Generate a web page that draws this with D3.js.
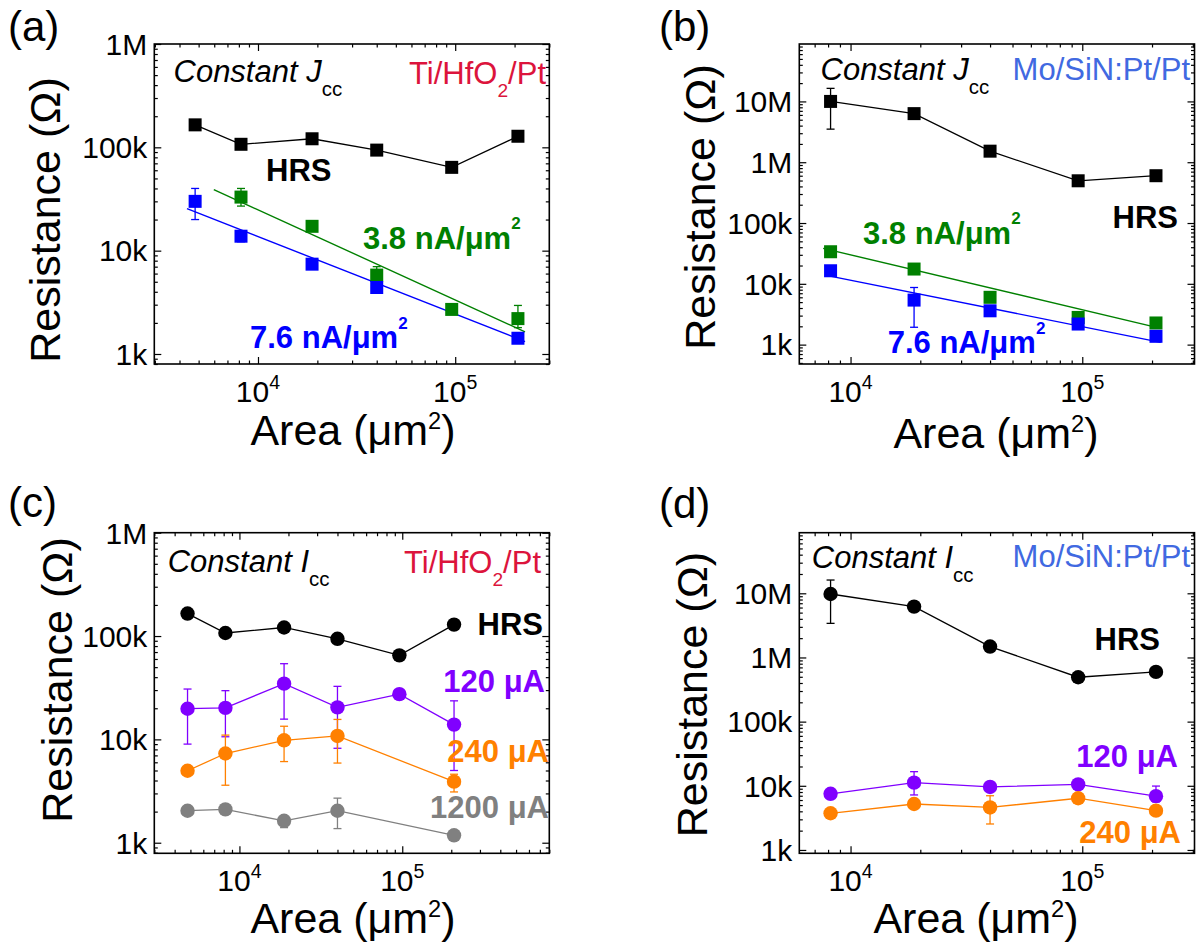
<!DOCTYPE html>
<html>
<head>
<meta charset="utf-8">
<script src="https://cdn.jsdelivr.net/npm/d3@7"></script>
<style>
body { margin: 0; background: #fff; }
svg  { font-family: "Liberation Sans", Arial, sans-serif; }
</style>
</head>
<body>
<div id="chart"></div>
<script>
//  Define width and height
var chart_width     =   1196;
var chart_height    =   946;

// Device areas (um^2)
var areaTi          =   [4800, 8200, 18800, 40000, 96000, 208000];
var areaMo          =   [8200, 18800, 40000, 96000, 208000];
var areaTi5         =   [4800, 8200, 18800, 40000, 208000];
var areaTi38        =   [8200, 18800, 40000, 96000, 208000];

// (a) Ti/HfO2/Pt, constant Jcc
var a_hrs           =   [165e3, 107e3, 121e3, 94e3, 64e3, 128e3];
var a_j38           =   [33e3, 17.2e3, 5.8e3, 2.7e3, 2.2e3];
var a_j38_lo        =   [27e3, null, 5.3e3, null, 1.8e3];
var a_j38_hi        =   [40e3, null, 7.0e3, null, 2.95e3];
var a_j76           =   [30e3, 13.8e3, 7.4e3, 4.4e3, 1.42e3];
var a_j76_lo        =   [20e3, 12.2e3, 6.6e3, 4.0e3, null];
var a_j76_hi        =   [40e3, 15.2e3, 8.1e3, 4.8e3, null];
var a_fit38         =   [[5970, 38.9e3], [2.26e5, 1.64e3]];
var a_fit76         =   [[4365, 25.5e3], [2.26e5, 1.32e3]];

// (b) Mo/SiN:Pt/Pt, constant Jcc
var b_hrs           =   [10e6, 6.3e6, 1.52e6, 495e3, 600e3];
var b_hrs_lo        =   [3.5e6, null, null, null, null];
var b_hrs_hi        =   [16.4e6, null, null, null, null];
var b_j38           =   [33.7e3, 17.5e3, 6.0e3, 2.8e3, 2.27e3];
var b_j38_lo        =   [29e3, null, null, null, null];
var b_j38_hi        =   [39e3, null, null, null, null];
var b_j76           =   [16.4e3, 5.4e3, 3.6e3, 2.18e3, 1.37e3];
var b_j76_lo        =   [null, 1.93e3, 3.0e3, null, null];
var b_j76_hi        =   [null, 8.7e3, 4.2e3, null, null];
var b_fit38         =   [[7620, 38.3e3], [2.18e5, 1.85e3]];
var b_fit76         =   [[7760, 13.9e3], [2.18e5, 1.09e3]];

// (c) Ti/HfO2/Pt, constant Icc
var c_hrs           =   [165e3, 107e3, 121e3, 94e3, 65e3, 129e3];
var c_i120          =   [19.8e3, 20.2e3, 34.6e3, 20.4e3, 27.4e3, 13.9e3];
var c_i120_lo       =   [9.0e3, 10.6e3, 15.7e3, 8.2e3, null, 5.0e3];
var c_i120_hi       =   [30.7e3, 29.6e3, 54e3, 32.6e3, null, 23.6e3];
var c_i240          =   [4.97e3, 7.3e3, 9.8e3, 10.8e3, 3.9e3];
var c_i240_lo       =   [null, 3.6e3, 6.1e3, 5.9e3, 3.1e3];
var c_i240_hi       =   [null, 11e3, 13.4e3, 15.6e3, 4.6e3];
var c_i1200         =   [2.04e3, 2.1e3, 1.63e3, 2.04e3, 1.18e3];
var c_i1200_lo      =   [null, null, 1.4e3, 1.37e3, null];
var c_i1200_hi      =   [null, null, 1.8e3, 2.7e3, null];

// (d) Mo/SiN:Pt/Pt, constant Icc
var d_hrs           =   [9.75e6, 6.2e6, 1.48e6, 492e3, 596e3];
var d_hrs_lo        =   [3.4e6, null, null, null, null];
var d_hrs_hi        =   [16.1e6, null, null, null, null];
var d_i120          =   [7.5e3, 11.2e3, 9.6e3, 10.5e3, 6.9e3];
var d_i120_lo       =   [null, 7.2e3, null, null, 5.6e3];
var d_i120_hi       =   [null, 16.6e3, null, null, 9.9e3];
var d_i240          =   [3.73e3, 5.2e3, 4.6e3, 6.4e3, 4.1e3];
var d_i240_lo       =   [3.2e3, null, 2.54e3, null, null];
var d_i240_hi       =   [4.3e3, null, 7.0e3, null, null];

// Colours
var c_green = "#008000", c_blue = "#0000ff", c_purple = "#8000ff",
    c_orange = "#ff8000", c_gray = "#808080", c_crimson = "#dc143c", c_royal = "#4169e1";

// Font sizes
var fs_tick = 30, fs_title = 43, fs_note = 31, fs_bold = 31, fs_letter = 42;


// Create SVG
var svg             =   d3.select("#chart")
    .append("svg")
    .attr("width", chart_width)
    .attr("height", chart_height);

function isPow10(d){
    var l = Math.log10(d);
    return Math.abs(l - Math.round(l)) < 1e-6;
}

// text with sub / superscripts
function richText(g, x, y, parts, o){
    var t = g.append("text")
        .attr("x", x).attr("y", y)
        .attr("font-size", o.size)
        .attr("fill", o.color || "#000")
        .attr("text-anchor", o.anchor || "start");
    if(o.weight) t.attr("font-weight", o.weight);
    if(o.italic) t.attr("font-style", "italic");
    if(o.rotate) t.attr("transform", "rotate(-90 " + x + " " + y + ")");
    var shift = 0;
    parts.forEach(function(p){
        var s = t.append("tspan").text(p.t);
        var target = 0;
        if(p.sup){ target = -(p.up || 0.5) * o.size; s.attr("font-size", o.size * (p.k || 0.6)); }
        if(p.sub){ target = (p.down || 0.4) * o.size; s.attr("font-size", o.size * (p.k || 0.62)); s.attr("font-style", "normal"); }
        s.attr("dy", target - shift);
        shift = target;
    });
    return t;
}

function drawPanel(p){
    var x = d3.scaleLog().domain(p.xDomain).range([p.left, p.right]);
    var y = d3.scaleLog().domain(p.yDomain).range([p.bottom, p.top]);
    var g = svg.append("g");

    var xt = x.ticks(), yt = y.ticks();
    var xMajor = xt.filter(isPow10), xMinor = xt.filter(function(d){ return !isPow10(d); });
    var yMajor = yt.filter(isPow10), yMinor = yt.filter(function(d){ return !isPow10(d); });

    // ticks on all four sides, pointing in
    var sides = [
        [d3.axisBottom, x, "translate(0," + p.bottom + ")", xMajor, xMinor],
        [d3.axisTop,    x, "translate(0," + p.top + ")",    xMajor, xMinor],
        [d3.axisLeft,   y, "translate(" + p.left + ",0)",   yMajor, yMinor],
        [d3.axisRight,  y, "translate(" + p.right + ",0)",  yMajor, yMinor]
    ];
    sides.forEach(function(s){
        [[s[3], -7], [s[4], -3.5]].forEach(function(set){
            var ax = g.append("g")
                .attr("transform", s[2])
                .call(s[0](s[1]).tickValues(set[0]).tickSize(set[1]).tickFormat(""));
            ax.select(".domain").remove();
            ax.selectAll("text").remove();
            ax.selectAll("line").attr("stroke", "#000").attr("stroke-width", 1.2);
        });
    });

    // tick labels
    var fmt = d3.format("~s");
    yMajor.forEach(function(v){
        g.append("text")
            .attr("x", p.left - 7)
            .attr("y", y(v))
            .attr("dy", "0.36em")
            .attr("text-anchor", "end")
            .attr("font-size", fs_tick)
            .text(fmt(v));
    });
    xMajor.forEach(function(v){
        richText(g, x(v), p.bottom + 38,
            [{t: "10"}, {t: String(Math.round(Math.log10(v))), sup: true, up: 0.45, k: 0.65}],
            {size: fs_tick, anchor: "middle"});
    });

    // fit lines
    (p.fits || []).forEach(function(f){
        g.append("path")
            .datum(f.pts)
            .attr("fill", "none")
            .attr("stroke", f.color)
            .attr("stroke-width", 1.4)
            .attr("d", d3.line().x(function(d){ return x(d[0]); }).y(function(d){ return y(d[1]); }));
    });

    // series
    p.series.forEach(function(s){
        var pts = s.area.map(function(a, i){
            return {a: a, v: s.values[i], lo: s.lo ? s.lo[i] : null, hi: s.hi ? s.hi[i] : null};
        });
        if(s.line){
            g.append("path")
                .datum(pts)
                .attr("fill", "none")
                .attr("stroke", s.color)
                .attr("stroke-width", 1.3)
                .attr("d", d3.line().x(function(d){ return x(d.a); }).y(function(d){ return y(d.v); }));
        }
        var eb = g.append("g").attr("stroke", s.color).attr("stroke-width", 1.3);
        pts.filter(function(d){ return d.lo != null; }).forEach(function(d){
            var cx = x(d.a);
            eb.append("line").attr("x1", cx).attr("x2", cx).attr("y1", y(d.lo)).attr("y2", y(d.hi));
            eb.append("line").attr("x1", cx - 4).attr("x2", cx + 4).attr("y1", y(d.lo)).attr("y2", y(d.lo));
            eb.append("line").attr("x1", cx - 4).attr("x2", cx + 4).attr("y1", y(d.hi)).attr("y2", y(d.hi));
        });
        if(s.shape === "square"){
            g.selectAll(null).data(pts).enter().append("rect")
                .attr("x", function(d){ return x(d.a) - 6.5; })
                .attr("y", function(d){ return y(d.v) - 6.5; })
                .attr("width", 13).attr("height", 13)
                .attr("fill", s.color);
        }else{
            g.selectAll(null).data(pts).enter().append("circle")
                .attr("cx", function(d){ return x(d.a); })
                .attr("cy", function(d){ return y(d.v); })
                .attr("r", 7.2)
                .attr("fill", s.color);
        }
    });

    // frame
    g.append("rect")
        .attr("x", p.left).attr("y", p.top)
        .attr("width", p.right - p.left).attr("height", p.bottom - p.top)
        .attr("fill", "none").attr("stroke", "#000").attr("stroke-width", 1.6);

    // axis titles
    richText(g, p.yTitle[0], p.yTitle[1], [{t: "Resistance (Ω)"}], {size: fs_title, anchor: "middle", rotate: true});
    richText(g, p.xTitle[0], p.xTitle[1],
        [{t: "Area (μm"}, {t: "2", sup: true, up: 0.38, k: 0.55}, {t: ")"}],
        {size: fs_title, anchor: "middle"});

    // panel letter
    g.append("text").attr("x", p.letter[0]).attr("y", p.letter[1])
        .attr("font-size", fs_letter).text(p.letter[2]);

    // annotations
    p.notes.forEach(function(n){
        richText(g, n.x, n.y, n.parts, n.o);
    });
}

var jcc = [{t: "Constant J"}, {t: "cc", sub: true, down: 0.45, k: 0.66}];
var icc = [{t: "Constant I"}, {t: "cc", sub: true, down: 0.45, k: 0.66}];
var tiLabel = [{t: "Ti/HfO"}, {t: "2", sub: true, down: 0.42, k: 0.62}, {t: "/Pt"}];
var moLabel = [{t: "Mo/SiN:Pt/Pt"}];
function density(v){ return [{t: v + " nA/μm"}, {t: "2", sup: true, up: 0.62, k: 0.55}]; }

// (a)
drawPanel({
    left: 154.3, right: 549.3, top: 44, bottom: 364,
    xDomain: [2980, 3.0e5], yDomain: [800, 1e6],
    yTitle: [60, 220], xTitle: [353, 445], letter: [8, 41, "(a)"],
    fits: [{pts: a_fit38, color: c_green}, {pts: a_fit76, color: c_blue}],
    series: [
        {area: areaTi, values: a_hrs, color: "#000", shape: "square", line: true},
        {area: areaTi38, values: a_j38, lo: a_j38_lo, hi: a_j38_hi, color: c_green, shape: "square"},
        {area: areaTi5, values: a_j76, lo: a_j76_lo, hi: a_j76_hi, color: c_blue, shape: "square"}
    ],
    notes: [
        {x: 173.5, y: 82, parts: jcc, o: {size: fs_note, italic: true}},
        {x: 546, y: 84, parts: tiLabel, o: {size: fs_note, color: c_crimson, anchor: "end"}},
        {x: 266, y: 181, parts: [{t: "HRS"}], o: {size: fs_bold, weight: "bold"}},
        {x: 363, y: 248.5, parts: density("3.8"), o: {size: fs_bold, weight: "bold", color: c_green}},
        {x: 250, y: 348.3, parts: density("7.6"), o: {size: fs_bold, weight: "bold", color: c_blue}}
    ]
});

// (b)
drawPanel({
    left: 799.3, right: 1194.5, top: 44, bottom: 364,
    xDomain: [6010, 3.05e5], yDomain: [480, 8.8e7],
    yTitle: [715, 207], xTitle: [996, 448], letter: [659, 41, "(b)"],
    fits: [{pts: b_fit38, color: c_green}, {pts: b_fit76, color: c_blue}],
    series: [
        {area: areaMo, values: b_hrs, lo: b_hrs_lo, hi: b_hrs_hi, color: "#000", shape: "square", line: true},
        {area: areaMo, values: b_j38, lo: b_j38_lo, hi: b_j38_hi, color: c_green, shape: "square"},
        {area: areaMo, values: b_j76, lo: b_j76_lo, hi: b_j76_hi, color: c_blue, shape: "square"}
    ],
    notes: [
        {x: 820.5, y: 79.6, parts: jcc, o: {size: fs_note, italic: true}},
        {x: 1190, y: 79.6, parts: moLabel, o: {size: fs_note, color: c_royal, anchor: "end"}},
        {x: 1178, y: 228, parts: [{t: "HRS"}], o: {size: fs_bold, weight: "bold", anchor: "end"}},
        {x: 863, y: 243.6, parts: density("3.8"), o: {size: fs_bold, weight: "bold", color: c_green}},
        {x: 887.7, y: 353.3, parts: density("7.6"), o: {size: fs_bold, weight: "bold", color: c_blue}}
    ]
});

// (c)
drawPanel({
    left: 154.3, right: 549.3, top: 532.7, bottom: 853.3,
    xDomain: [3000, 8.0e5], yDomain: [790, 1e6],
    yTitle: [72, 680], xTitle: [353, 933], letter: [8, 517, "(c)"],
    series: [
        {area: areaTi, values: c_hrs, color: "#000", shape: "circle", line: true},
        {area: areaTi, values: c_i120, lo: c_i120_lo, hi: c_i120_hi, color: c_purple, shape: "circle", line: true},
        {area: areaTi5, values: c_i240, lo: c_i240_lo, hi: c_i240_hi, color: c_orange, shape: "circle", line: true},
        {area: areaTi5, values: c_i1200, lo: c_i1200_lo, hi: c_i1200_hi, color: c_gray, shape: "circle", line: true}
    ],
    notes: [
        {x: 167.7, y: 571.6, parts: icc, o: {size: fs_note, italic: true}},
        {x: 541, y: 573.3, parts: tiLabel, o: {size: fs_note, color: c_crimson, anchor: "end"}},
        {x: 543, y: 634.8, parts: [{t: "HRS"}], o: {size: fs_bold, weight: "bold", anchor: "end"}},
        {x: 545, y: 692.3, parts: [{t: "120 μA"}], o: {size: fs_bold, weight: "bold", color: c_purple, anchor: "end"}},
        {x: 549, y: 762.2, parts: [{t: "240 μA"}], o: {size: fs_bold, weight: "bold", color: c_orange, anchor: "end"}},
        {x: 549, y: 817.7, parts: [{t: "1200 μA"}], o: {size: fs_bold, weight: "bold", color: c_gray, anchor: "end"}}
    ]
});

// (d)
drawPanel({
    left: 799.3, right: 1194.5, top: 532.7, bottom: 853.3,
    xDomain: [6010, 3.05e5], yDomain: [887, 8.8e7],
    yTitle: [707.5, 694.6], xTitle: [976, 933], letter: [659, 517.5, "(d)"],
    series: [
        {area: areaMo, values: d_hrs, lo: d_hrs_lo, hi: d_hrs_hi, color: "#000", shape: "circle", line: true},
        {area: areaMo, values: d_i120, lo: d_i120_lo, hi: d_i120_hi, color: c_purple, shape: "circle", line: true},
        {area: areaMo, values: d_i240, lo: d_i240_lo, hi: d_i240_hi, color: c_orange, shape: "circle", line: true}
    ],
    notes: [
        {x: 811.8, y: 567.6, parts: icc, o: {size: fs_note, italic: true}},
        {x: 1190, y: 566.6, parts: moLabel, o: {size: fs_note, color: c_royal, anchor: "end"}},
        {x: 1160, y: 649.8, parts: [{t: "HRS"}], o: {size: fs_bold, weight: "bold", anchor: "end"}},
        {x: 1178, y: 767.2, parts: [{t: "120 μA"}], o: {size: fs_bold, weight: "bold", color: c_purple, anchor: "end"}},
        {x: 1181, y: 843.4, parts: [{t: "240 μA"}], o: {size: fs_bold, weight: "bold", color: c_orange, anchor: "end"}}
    ]
});
</script>
</body>
</html>
